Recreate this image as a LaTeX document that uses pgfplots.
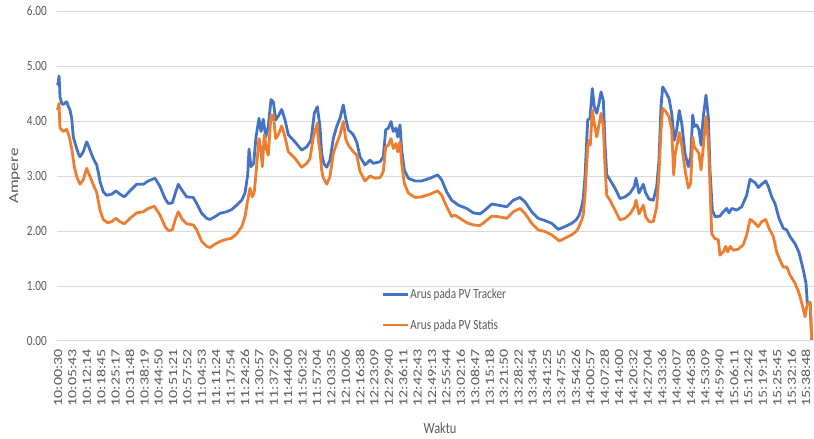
\documentclass[border=0pt]{standalone}
\usepackage{fontspec}
\setmainfont{Carlito}
\newfontfamily\hfont{Carlito}[FakeStretch=0.8]
\newfontfamily\vfont{Carlito}[FakeStretch=1.28]
\usepackage{pgfplots}
\pgfplotsset{compat=1.18}
\definecolor{trk}{HTML}{4472C4}
\definecolor{sts}{HTML}{ED7D31}
\definecolor{grd}{HTML}{D9D9D9}
\definecolor{txt}{HTML}{595959}
\begin{document}
\begin{tikzpicture}
\begin{axis}[
  at={(57pt,98pt)}, anchor=south west,
  scale only axis, width=757pt, height=330pt,
  xmin=57, xmax=814, ymin=0, ymax=6,
  clip=false,
  axis line style={draw=none},
  major tick length=0pt,
  ytick={0,1,2,3,4,5,6},
  ymajorgrids, grid style={grd, line width=1pt},
  y tick label style={/pgf/number format/fixed, /pgf/number format/fixed zerofill,
    /pgf/number format/precision=2, /pgf/number format/assume math mode=true,
    font=\hfont\fontsize{14}{16}\selectfont, text=txt, inner ysep=0pt, inner xsep=10pt},
  xtick={58,72.385,...,806.5},
  xticklabels={10:00:30,10:05:43,10:12:14,10:18:45,10:25:17,10:31:48,10:38:19,10:44:50,10:51:21,10:57:52,
    11:04:53,11:11:24,11:17:54,11:24:26,11:30:57,11:37:29,11:44:00,11:50:32,11:57:04,
    12:03:35,12:10:06,12:16:38,12:23:09,12:29:40,12:36:11,12:42:43,12:49:13,12:55:44,
    13:02:16,13:08:47,13:15:18,13:21:50,13:28:22,13:34:54,13:41:25,13:47:55,13:54:26,
    14:00:57,14:07:28,14:14:00,14:20:32,14:27:04,14:33:36,14:40:07,14:46:38,14:53:09,14:59:40,
    15:06:11,15:12:42,15:19:14,15:25:45,15:32:16,15:38:48},
  x tick label style={font=\vfont\fontsize{12.5}{14}\selectfont, text=txt, rotate=90, anchor=east, inner xsep=8pt, inner ysep=0pt},
  ylabel={Ampere},
  ylabel style={font=\vfont\fontsize{13.5}{15}\selectfont, text=txt, at={(axis description cs:-0.0555,0.5)}, anchor=center},
  xlabel={Waktu},
  xlabel style={font=\hfont\fontsize{15.5}{17}\selectfont, text=txt, at={(axis description cs:0.506,-0.2636)}, anchor=center},
  legend style={at={(axis description cs:0.428,0.094)}, anchor=west, draw=none, fill=none,
    font=\hfont\fontsize{14}{16}\selectfont, text=txt, row sep=16pt, inner sep=0pt, nodes={inner sep=1.5pt}},
  legend cell align=left,
  legend image code/.code={\draw[#1, line width=2.8pt] (0pt,0pt) -- (25pt,0pt);},
]
\addplot[trk, line width=2.8pt, line join=round] coordinates {
(57.5,4.65) (58.3,4.70) (59,4.82) (59.7,4.60) (60,4.44) (61.7,4.32) (63.5,4.30) (65,4.33) (66.7,4.35)
(68,4.28) (70,4.20) (71.7,4.05) (73.3,3.71) (75,3.60) (76.7,3.50) (78.5,3.40) (80,3.35) (83.3,3.44)
(86.7,3.62) (88.5,3.55) (90,3.47) (93.3,3.32) (96.7,3.20) (98.5,3.05) (100,2.90) (103.3,2.71)
(106.7,2.65) (111.7,2.67) (116,2.73) (120,2.67) (124.3,2.62) (130,2.73) (136.7,2.85) (143.3,2.85)
(148.3,2.91) (155,2.96) (160,2.81) (165,2.59) (168.3,2.50) (172.3,2.51) (175.7,2.71) (178.3,2.85)
(181.7,2.75) (186.7,2.62) (193.3,2.61) (196.7,2.50) (201.7,2.32) (206.7,2.23) (210,2.21) (215,2.26)
(220,2.32) (226.7,2.35) (231.7,2.39) (236.7,2.47) (241.7,2.56) (245,2.69) (247.7,3.02) (249,3.49)
(251,3.17) (253.7,3.23) (256,3.71) (259,4.05) (261,3.81) (263.3,4.03) (265.7,3.71) (268.3,3.90)
(271,4.39) (273.3,4.35) (275.7,4.02) (278.3,4.09) (281.7,4.21) (285,4.02) (288.3,3.75) (295,3.62)
(301.7,3.47) (306.7,3.53) (311,3.65) (314.3,4.14) (317.3,4.26) (320,3.90) (321.7,3.40) (324,3.22)
(326.7,3.16) (330,3.29) (333.3,3.68) (336.7,3.90) (340,4.05) (343.3,4.29) (345.7,4.05) (348.3,3.84)
(353.3,3.75) (356.7,3.62) (360,3.35) (365,3.20) (370,3.29) (373.3,3.23) (380,3.26) (383.3,3.35)
(385.7,3.84) (388.3,3.87) (391,3.99) (393.3,3.81) (396,3.87) (397.7,3.71) (400,3.93) (401.7,3.47)
(404.3,3.11) (408.3,2.96) (415,2.91) (421.7,2.91) (430,2.96) (437.7,3.02) (441.7,2.93) (446.7,2.71)
(451.7,2.56) (458.3,2.47) (466.7,2.41) (473.3,2.33) (480,2.31) (485,2.38) (491.7,2.49) (498.3,2.47)
(506.7,2.44) (513.3,2.56) (520,2.61) (525,2.53) (531.7,2.35) (538.3,2.23) (545,2.19) (551.7,2.14)
(558.3,2.03) (565,2.08) (571.7,2.14) (576,2.20) (579,2.28) (581.7,2.44) (583.3,2.60) (585,2.99)
(587.7,4.02) (590,4.05) (592.3,4.59) (594.3,4.26) (596.7,4.14) (599,4.32) (601,4.53) (603.3,4.38)
(605,3.59) (606.7,3.02) (610,2.93) (615,2.78) (620,2.59) (625,2.62) (630,2.69) (634.3,2.81)
(636,2.96) (639,2.69) (643.3,2.85) (645.7,2.69) (649,2.58) (653.3,2.56) (656.7,2.81) (659,3.29)
(661,4.26) (662.7,4.62) (665.7,4.53) (669,4.41) (671.7,4.14) (674.3,3.65) (676.7,3.84) (679.3,4.19)
(681.7,3.96) (685,3.41) (688.3,3.17) (690.7,3.35) (692.7,4.11) (694.3,3.90) (696.7,3.93) (699,3.84)
(701,3.56) (703.3,4.08) (706,4.47) (708.3,4.08) (710,3.11) (712.3,2.38) (715,2.26) (720,2.27)
(723.3,2.35) (726.7,2.41) (729,2.33) (731.7,2.41) (736.7,2.38) (741.7,2.44) (746.7,2.65) (750,2.94)
(755,2.88) (758.3,2.79) (761.7,2.85) (765.7,2.91) (768.3,2.81) (771.7,2.62) (775,2.50) (779,2.23)
(783.3,2.05) (786.7,2.02) (790,1.90) (795,1.77) (799,1.61) (803.3,1.29) (806,1.05) (807.3,0.69)
(810,0.70) (811.7,0.02)
};
\addlegendentry{Arus pada PV Tracker}
\addplot[sts, line width=2.8pt, line join=round] coordinates {
(57.5,4.20) (59,4.32) (60,3.87) (63.3,3.81) (66.7,3.85) (69,3.73) (71.7,3.50) (74.3,3.17) (76.7,2.99)
(80,2.85) (83.3,2.93) (86.7,3.14) (90,2.99) (93.3,2.84) (96.7,2.70) (100,2.38) (103.3,2.21)
(107.7,2.15) (111.7,2.17) (115.7,2.23) (120,2.17) (124.3,2.13) (130,2.23) (136.7,2.33) (143.3,2.35)
(148.3,2.41) (154.3,2.45) (160,2.29) (165,2.08) (168.3,2.01) (172.3,2.02) (175.7,2.23) (178.3,2.35)
(182.3,2.21) (186.7,2.13) (193.3,2.11) (196.7,2.02) (201.7,1.81) (206.7,1.72) (210,1.70) (215,1.76)
(220,1.81) (226.7,1.85) (231.7,1.87) (236.7,1.95) (241.7,2.08) (245,2.26) (247.7,2.56) (250,2.78)
(252.3,2.62) (254.3,2.71) (256,3.05) (259,3.68) (261,3.47) (262.3,3.17) (264.3,3.75) (266.7,3.47)
(268.3,3.38) (271,4.11) (273.3,4.11) (275.7,3.68) (278.3,3.75) (281.7,3.91) (285,3.71) (288.3,3.44)
(295,3.32) (301.7,3.16) (306.7,3.23) (310,3.32) (313.3,3.71) (317.3,3.96) (318.3,3.65) (320,3.45)
(321.7,3.10) (323.3,2.97) (326.7,2.85) (330,2.99) (333.3,3.41) (336.7,3.59) (340,3.75) (343.3,3.99)
(345.7,3.68) (348.3,3.56) (353.3,3.44) (356.7,3.38) (360,3.08) (365,2.91) (370,3.00) (375,2.96)
(380,2.97) (383.3,3.08) (385.7,3.53) (388.3,3.56) (391,3.68) (393.3,3.50) (396,3.59) (397.7,3.44)
(400,3.62) (401.7,3.23) (404.3,2.87) (408.3,2.69) (415,2.61) (421.7,2.62) (430,2.67) (437.7,2.73)
(441.7,2.65) (446.7,2.44) (451.7,2.26) (455,2.29) (460,2.23) (466.7,2.15) (473.3,2.11) (480,2.10)
(485,2.17) (491.7,2.27) (498.3,2.26) (506.7,2.23) (513.3,2.35) (520,2.41) (525,2.32) (531.7,2.14)
(538.3,2.02) (545,1.99) (551.7,1.93) (559.3,1.82) (565,1.87) (571.7,1.93) (576,1.99) (578.3,2.05)
(581.7,2.20) (583.3,2.30) (585,2.65) (587.7,3.53) (589,3.65) (590.3,3.56) (592.3,4.20) (594.3,3.96)
(596.7,3.71) (599,3.93) (601,4.14) (603.3,3.90) (605,3.17) (606.7,2.65) (610,2.56) (615,2.38)
(620,2.20) (625,2.23) (630,2.31) (634.3,2.44) (636,2.56) (639,2.31) (643.3,2.47) (645.7,2.26)
(649,2.17) (653.3,2.17) (656.7,2.44) (659,3.05) (661,3.84) (662.7,4.23) (665.7,4.17) (669,4.08)
(671.7,3.84) (673.7,3.02) (675,3.38) (676.7,3.53) (679.3,3.79) (681.7,3.56) (685,3.11) (688.3,2.78)
(690.7,2.87) (692.7,3.71) (694.3,3.53) (696.7,3.47) (699,3.41) (701,3.11) (703.3,3.53) (706,4.08)
(708.3,3.65) (710,2.81) (711.7,1.96) (714.3,1.87) (718.3,1.84) (720,1.56) (723.3,1.62) (725.7,1.72)
(727.7,1.62) (730.3,1.72) (733.3,1.65) (738.3,1.67) (743.3,1.75) (746.7,1.93) (750,2.21) (753.3,2.17)
(758.3,2.08) (761.7,2.17) (765.7,2.21) (769,2.05) (773.3,1.90) (776.7,1.62) (780,1.47) (783.3,1.34)
(786.7,1.35) (790,1.20) (795,1.05) (799,0.87) (802.3,0.65) (805,0.44) (806.7,0.62) (808.3,0.70)
(810.3,0.69) (811.7,0.02)
};
\addlegendentry{Arus pada PV Statis}
\end{axis}
\pgfresetboundingbox
\useasboundingbox (0,0) rectangle (814pt,439pt);
\end{tikzpicture}
\end{document}
